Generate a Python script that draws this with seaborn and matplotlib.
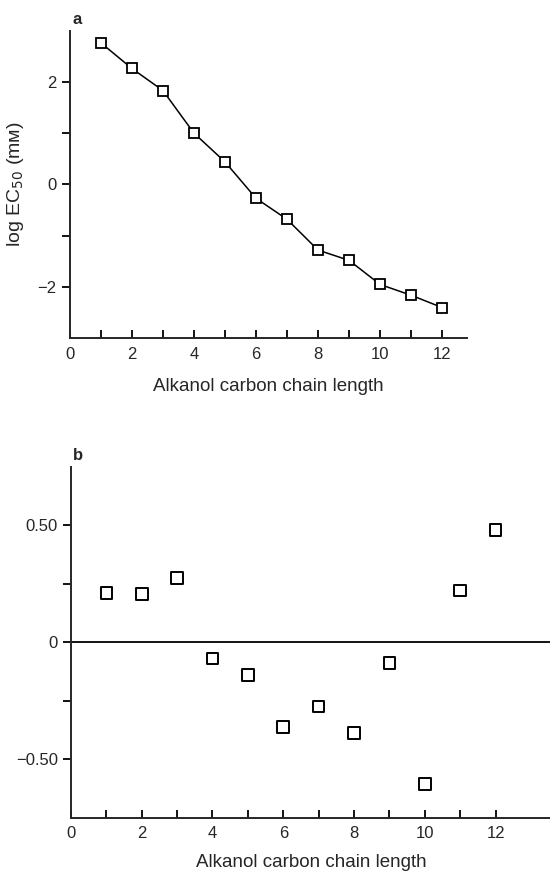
import matplotlib
matplotlib.use('Agg')
import matplotlib.pyplot as plt
import numpy as np
import pandas as pd
import seaborn as sns

# Panel a: log EC50 vs chain length
chain_length = [1, 2, 3, 4, 5, 6, 7, 8, 9, 10, 11, 12]
log_ec50 = [2.76, 2.26, 1.83, 1.00, 0.44, -0.27, -0.68, -1.28, -1.48, -1.95, -2.16, -2.40]

# Panel b: residuals
residuals = [0.209, 0.206, 0.274, -0.070, -0.141, -0.362, -0.274, -0.388, -0.088, -0.605, 0.220, 0.479]

x_ticks = [0, 2, 4, 6, 8, 10, 12]
a_yticks = [-2, -1, 0, 1, 2]
a_yticklabels = ['\u22122', '', '0', '', '2']
b_yticks = [-0.5, -0.25, 0, 0.25, 0.5]
b_yticklabels = ['\u22120.50', '', '0', '', '0.50']

df_a = pd.DataFrame({'n': chain_length, 'y': log_ec50})
df_b = pd.DataFrame({'n': chain_length, 'y': residuals})

sns.set_theme(style='ticks')
plt.rcParams['font.family'] = ['Liberation Sans', 'DejaVu Sans']

fig = plt.figure(figsize=(5.5, 8.72), dpi=100)
ax_a = fig.add_axes([0.127, 0.612, 0.722, 0.353])
ax_b = fig.add_axes([0.129, 0.062, 0.875, 0.403])

# Panel a
sns.lineplot(data=df_a, x='n', y='y', ax=ax_a, color='black', linewidth=1.1,
             marker='s', markersize=6.5, markerfacecolor='white',
             markeredgecolor='black', markeredgewidth=1.3)
ax_a.set_xlim(0, 12.8)
ax_a.set_ylim(-3, 3)
ax_a.set_yticks(a_yticks)
ax_a.set_yticklabels(a_yticklabels)
ax_a.set_ylabel('log EC$_{50}$ (m\u1d0d)', fontsize=14, labelpad=8)

# Panel b
sns.scatterplot(data=df_b, x='n', y='y', ax=ax_b, marker='s', s=70,
                facecolor='none', edgecolor='black', linewidth=1.4)
ax_b.axhline(0, color='black', linewidth=1.3)
ax_b.set_xlim(0, 13.6)
ax_b.set_ylim(-0.75, 0.75)
ax_b.set_yticks(b_yticks)
ax_b.set_yticklabels(b_yticklabels)
ax_b.set_ylabel('')

for ax in (ax_a, ax_b):
    sns.despine(ax=ax)
    ax.spines['left'].set_linewidth(1.4)
    ax.spines['bottom'].set_linewidth(1.4)
    ax.set_xticks(chain_length, minor=True)
    ax.set_xticks(x_ticks)
    ax.tick_params(axis='x', which='both', direction='in', length=6, width=1.3,
                   labelsize=12, pad=6, color='black')
    ax.tick_params(axis='y', direction='out', length=6, width=1.3, labelsize=12, color='black')

ax_a.set_xlabel('Alkanol carbon chain length', fontsize=13.5, labelpad=12)
ax_b.set_xlabel('Alkanol carbon chain length', fontsize=13.5, labelpad=9)

fig.text(0.14, 0.978, 'a', fontsize=12, fontweight='bold', ha='center', va='center')
fig.text(0.142, 0.478, 'b', fontsize=12, fontweight='bold', ha='center', va='center')

fig.savefig('out.png', dpi=100)
